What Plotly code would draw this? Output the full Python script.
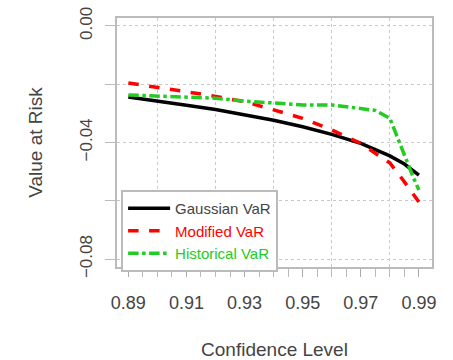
import plotly.graph_objects as go

conf_gauss = [0.89, 0.90, 0.91, 0.92, 0.93, 0.94, 0.95, 0.96, 0.97, 0.98, 0.985, 0.99]
gauss_var = [-0.0244, -0.0257, -0.0272, -0.0287, -0.0305, -0.0324, -0.0346, -0.0372, -0.0403, -0.0446, -0.0474, -0.0512]

conf_mod = [0.89, 0.90, 0.91, 0.92, 0.93, 0.94, 0.95, 0.96, 0.97, 0.975, 0.98, 0.985, 0.99]
mod_var = [-0.0196, -0.0210, -0.0226, -0.0242, -0.0260, -0.0288, -0.0317, -0.0357, -0.0403, -0.0437, -0.0470, -0.0535, -0.0604]

conf_hist = [0.89, 0.90, 0.91, 0.92, 0.93, 0.94, 0.95, 0.96, 0.97, 0.975, 0.98, 0.982, 0.985, 0.988, 0.99]
hist_var = [-0.0237, -0.0240, -0.0243, -0.0248, -0.0258, -0.0266, -0.0271, -0.0271, -0.0282, -0.0290, -0.0317, -0.0368, -0.0437, -0.0518, -0.0563]

x_labels = [0.89, 0.91, 0.93, 0.95, 0.97, 0.99]
x_grid = [0.90, 0.92, 0.94, 0.96, 0.98]

FONT = "Liberation Sans, Arial, sans-serif"
GRID = "#c8c8c8"

fig = go.Figure()
fig.add_trace(go.Scatter(x=conf_gauss, y=gauss_var, mode="lines", name="Gaussian VaR",
                         line=dict(color="black", width=3.5)))
fig.add_trace(go.Scatter(x=conf_mod, y=mod_var, mode="lines",
                         name="<span style='color:#ff0000'>Modified VaR</span>",
                         line=dict(color="#ff0000", width=3.5, dash="dash")))
fig.add_trace(go.Scatter(x=conf_hist, y=hist_var, mode="lines",
                         name="<span style='color:#22cc22'>Historical VaR</span>",
                         line=dict(color="#22cc22", width=3.5, dash="dashdot")))
# invisible trace to carry the grid axis
fig.add_trace(go.Scatter(x=x_grid, y=[None]*len(x_grid), xaxis="x2", showlegend=False,
                         hoverinfo="skip", mode="lines"))

fig.update_layout(
    width=453, height=360,
    margin=dict(l=117, r=21, t=18, b=93),
    paper_bgcolor="white", plot_bgcolor="white",
    font=dict(family=FONT, size=14, color="#444"),
    xaxis=dict(range=[0.8861, 0.9945], tickvals=x_labels, ticktext=[f"{v:.2f}" for v in x_labels],
               showgrid=False, zeroline=False, ticks="outside", ticklen=8, tickcolor="#aaa",
               tickfont=dict(size=18, color="#444"), ticklabelstandoff=10, automargin=False,
               minor=dict(dtick=0.005, tick0=0.89, ticks="outside", ticklen=8, tickcolor="#bbb", showgrid=False),
               showline=True, linecolor="#bbb", linewidth=2, mirror=True,
               title=dict(text="Confidence Level", font=dict(size=19, color="#444"), standoff=35)),
    xaxis2=dict(range=[0.8861, 0.9945], overlaying="x", tickvals=x_grid, showticklabels=False,
                showgrid=True, gridcolor=GRID, griddash="dot", gridwidth=1, ticks="", zeroline=False),
    yaxis=dict(range=[-0.0827, 0.0027], dtick=0.04, tick0=0, tickformat=".2f",
               tickangle=-90, showgrid=True, gridcolor=GRID, griddash="dot", zeroline=False,
               ticks="outside", ticklen=10, tickcolor="#bbb", tickfont=dict(size=17, color="#444"),
               ticklabelstandoff=6, automargin=False,
               minor=dict(dtick=0.02, ticks="outside", ticklen=10, tickcolor="#bbb",
                          showgrid=True, gridcolor=GRID, griddash="dot"),
               showline=True, linecolor="#bbb", linewidth=2, mirror=True,
               title=dict(text="Value at Risk", font=dict(size=19, color="#444"), standoff=30)),
    legend=dict(x=0.013, y=0.309, xanchor="left", yanchor="top",
                bgcolor="white", bordercolor="#bbb", borderwidth=2,
                font=dict(size=15, color="#444"), itemwidth=42, tracegroupgap=0),
)

fig.write_html("out.html")
